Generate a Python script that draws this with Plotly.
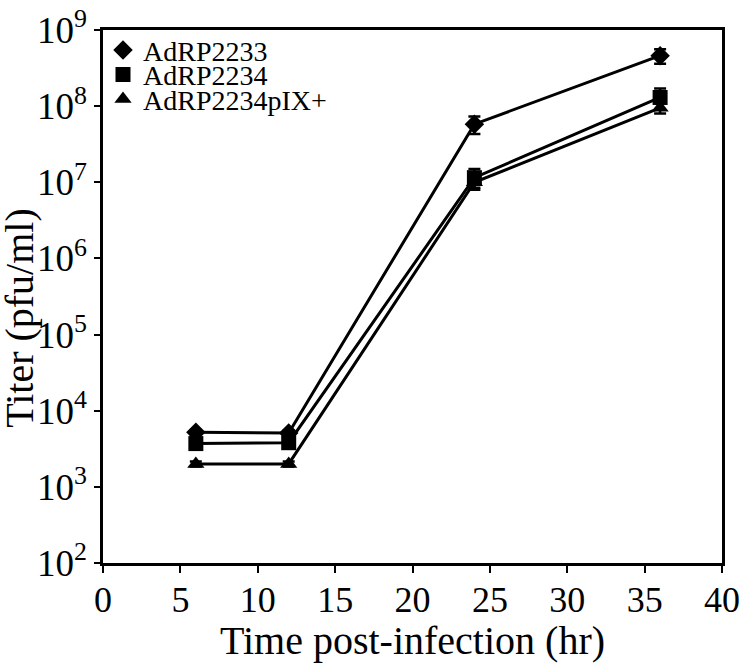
import plotly.graph_objects as go

hours = [6, 12, 24, 36]

names = ["AdRP2233", "AdRP2234", "AdRP2234pIX+"]
symbols = ["diamond", "square", "triangle-up"]

titer_2233 = [5200, 5100, 5.8e7, 4.6e8]
titer_2234 = [3700, 3800, 1.15e7, 1.3e8]
titer_pix = [2000, 2000, 1.0e7, 9.5e7]

err_2233 = [400, 400, 1.5e7, 1.0e8]
err_2234 = [300, 300, 3.5e6, 4.0e7]
err_pix = [150, 150, 1.5e6, 1.5e7]

x_ticks = [0, 5, 10, 15, 20, 25, 30, 35, 40]
y_tickvals = [1e2, 1e3, 1e4, 1e5, 1e6, 1e7, 1e8, 1e9]
y_ticktext = ["10<sup>2</sup>", "10<sup>3</sup>", "10<sup>4</sup>", "10<sup>5</sup>",
              "10<sup>6</sup>", "10<sup>7</sup>", "10<sup>8</sup>", "10<sup>9</sup>"]

series = [titer_2233, titer_2234, titer_pix]
errors = [err_2233, err_2234, err_pix]

font = "Liberation Serif, Times New Roman, serif"

# one legend per series so the rows can sit as tightly as in the original
legend_ids = ["legend", "legend2", "legend3"]
legend_y = [0.962, 0.916, 0.870]

fig = go.Figure()

for name, sym, vals, errs, lg in zip(names, symbols, series, errors, legend_ids):
    fig.add_trace(go.Scatter(
        x=hours, y=vals, mode="lines",
        line=dict(color="black", width=3),
        showlegend=False, hoverinfo="skip",
    ))
    fig.add_trace(go.Scatter(
        x=hours, y=vals, mode="markers", name=name, legend=lg,
        marker=dict(symbol=sym, size=15, color="black"),
        error_y=dict(type="data", array=errs, color="black", thickness=2.5, width=6),
    ))

legend_style = dict(
    x=0.0, xanchor="left", yanchor="middle",
    font=dict(size=28, family=font, color="black"),
    bgcolor="rgba(0,0,0,0)", itemwidth=30,
)

fig.update_layout(
    width=741, height=663,
    margin=dict(l=103, r=19, t=30, b=100),
    font=dict(family=font, color="black"),
    plot_bgcolor="white",
    paper_bgcolor="white",
    legend=dict(y=legend_y[0], **legend_style),
    legend2=dict(y=legend_y[1], **legend_style),
    legend3=dict(y=legend_y[2], **legend_style),
)

fig.add_annotation(
    text="Titer (pfu/ml)", textangle=-90,
    xref="paper", yref="paper", x=-0.134, y=0.46,
    xanchor="center", yanchor="middle", showarrow=False,
    font=dict(size=40, family=font, color="black"),
    borderpad=0,
)

fig.update_xaxes(
    range=[0, 40], tickvals=x_ticks,
    ticks="outside", ticklen=7, tickwidth=2, tickcolor="black",
    ticklabelstandoff=-4,
    showline=True, linewidth=2.5, linecolor="black", mirror=True,
    tickfont=dict(size=36, family=font, color="black"),
    title=dict(text="Time post-infection (hr)", font=dict(size=40, family=font, color="black"), standoff=2),
    showgrid=False, zeroline=False, automargin=False,
)

fig.update_yaxes(
    type="log", range=[2, 9],
    tickvals=y_tickvals, ticktext=y_ticktext,
    ticks="outside", ticklen=6, tickwidth=2, tickcolor="black",
    showline=True, linewidth=2.5, linecolor="black", mirror=True,
    tickfont=dict(size=37, family=font, color="black"),
    showgrid=False, zeroline=False, automargin=False,
)

fig.write_html("out.html", config={"displayModeBar": False},
               post_script="document.body.style.margin='0';")
